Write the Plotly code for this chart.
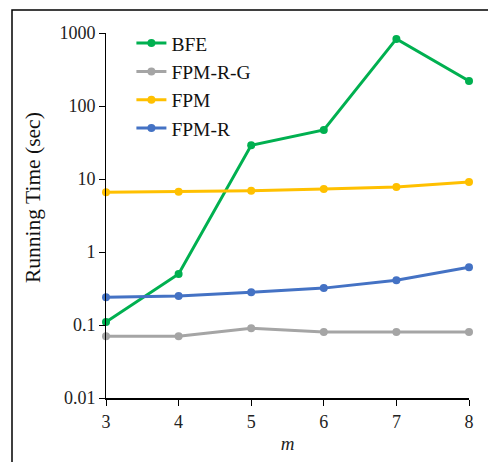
import plotly.graph_objects as go

m = [3, 4, 5, 6, 7, 8]
bfe = [0.11, 0.5, 29, 47, 830, 220]
fpm_r_g = [0.07, 0.07, 0.09, 0.08, 0.08, 0.08]
fpm = [6.6, 6.7, 6.9, 7.3, 7.8, 9.1]
fpm_r = [0.24, 0.25, 0.28, 0.32, 0.41, 0.62]
y_ticks = [0.01, 0.1, 1, 10, 100, 1000]
y_tick_labels = ["0.01", "0.1", "1", "10", "100", "1000"]

series = [
    ("BFE", bfe, "#00B050"),
    ("FPM-R-G", fpm_r_g, "#A5A5A5"),
    ("FPM", fpm, "#FFC000"),
    ("FPM-R", fpm_r, "#4472C4"),
]

fig = go.Figure()
for name, vals, color in series:
    fig.add_trace(go.Scatter(
        x=m, y=vals, name=name, mode="lines+markers",
        line=dict(color=color, width=3),
        marker=dict(color=color, size=8),
        cliponaxis=False,
    ))

font = "Liberation Serif"
W, H = 363, 365
fig.update_layout(
    width=488, height=462,
    margin=dict(l=106, r=19, t=33, b=64),
    paper_bgcolor="white", plot_bgcolor="white",
    font=dict(family=font, size=18, color="#222"),
    showlegend=True,
    legend=dict(x=0.07, y=1.025, xanchor="left", yanchor="top",
                bgcolor="rgba(0,0,0,0)", font=dict(size=19.5, family=font, color="#111"),
                itemwidth=30, tracegroupgap=0),
    xaxis=dict(range=[3, 8], tickvals=m, showline=True, linecolor="black", linewidth=2,
               ticks="outside", ticklen=6, tickcolor="black", showgrid=False, zeroline=False,
               title=dict(text="<i>m</i>", font=dict(size=19, family=font), standoff=6),
               tickfont=dict(size=18, family=font)),
    yaxis=dict(type="log", range=[-2, 3], tickvals=y_ticks, ticktext=y_tick_labels,
               showline=True, linecolor="black", linewidth=1, ticks="outside", ticklen=6,
               tickcolor="black", showgrid=False, zeroline=False,
               tickfont=dict(size=18, family=font)),
    annotations=[dict(text="Running Time (sec)", textangle=-90, xref="paper", yref="paper",
                      x=(33 - 106) / W, y=(398 - 198) / H, xanchor="center", yanchor="middle",
                      showarrow=False, font=dict(size=21.5, family=font, color="#111"))],
    shapes=[dict(type="rect", xref="paper", yref="paper",
                 x0=(12 - 106) / W, x1=1.2, y0=-0.3, y1=(398 - 10) / H,
                 line=dict(color="black", width=1.5), fillcolor="rgba(0,0,0,0)", layer="below")],
)
fig.write_html("out.html", config={"displayModeBar": False},
               post_script="document.body.style.margin='0';document.body.style.padding='0';")
